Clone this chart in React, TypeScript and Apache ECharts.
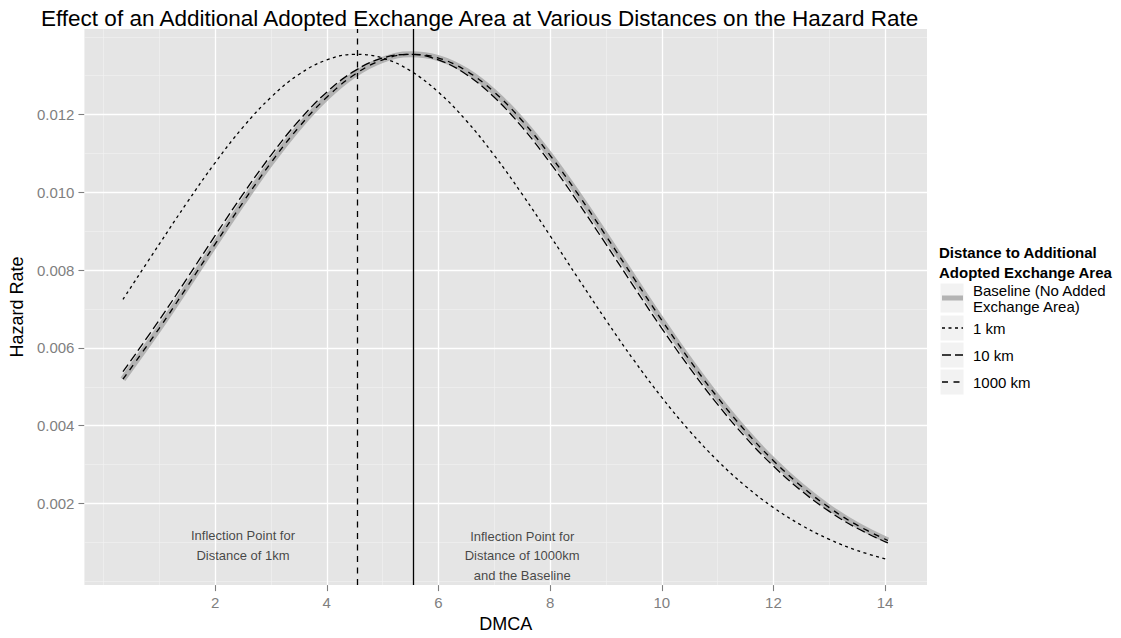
import React, { useEffect, useRef } from "react";
import * as echarts from "echarts";

// ---- data ----
const titleText =
  "Effect of an Additional Adopted Exchange Area at Various Distances on the Hazard Rate";
const xAxisTitle = "DMCA";
const yAxisTitle = "Hazard Rate";
const legendTitle = ["Distance to Additional", "Adopted Exchange Area"];
const seriesNames = ["Baseline (No Added\nExchange Area)", "1 km", "10 km", "1000 km"];

const dmca = [
  0.35, 1.0, 1.5, 2.0, 2.5, 3.0, 3.5, 4.0, 4.5, 5.0, 5.5, 6.0, 6.5, 7.0, 7.5, 8.0,
  8.5, 9.0, 9.5, 10.0, 10.5, 11.0, 11.5, 12.0, 12.5, 13.0, 13.5, 14.05,
];
const baseline = [
  0.005194, 0.006503, 0.007575, 0.008667, 0.009742, 0.01076, 0.011675, 0.012443,
  0.013031, 0.013405, 0.013549, 0.013453, 0.013123, 0.012576, 0.011841, 0.010952,
  0.009952, 0.008885, 0.007792, 0.006714, 0.005683, 0.004726, 0.003861, 0.003099,
  0.002444, 0.001893, 0.001441, 0.001046,
];
const km1 = [
  0.007249, 0.008667, 0.009742, 0.01076, 0.011675, 0.012443, 0.013031, 0.013405,
  0.013549, 0.013453, 0.013123, 0.012576, 0.011841, 0.010952, 0.009952, 0.008885,
  0.007792, 0.006714, 0.005683, 0.004726, 0.003861, 0.003099, 0.002444, 0.001893,
  0.001441, 0.001077, 0.000791, 0.000552,
];
const km10 = [
  0.005388, 0.006714, 0.007792, 0.008885, 0.009952, 0.010952, 0.011841, 0.012576,
  0.013123, 0.013453, 0.013549, 0.013405, 0.013031, 0.012443, 0.011675, 0.01076,
  0.009742, 0.008667, 0.007575, 0.006503, 0.005485, 0.004545, 0.0037, 0.002959,
  0.002325, 0.001795, 0.001361, 0.000984,
];
const km1000 = [
  0.005194, 0.006503, 0.007575, 0.008667, 0.009742, 0.01076, 0.011675, 0.012443,
  0.013031, 0.013405, 0.013549, 0.013453, 0.013123, 0.012576, 0.011841, 0.010952,
  0.009952, 0.008885, 0.007792, 0.006714, 0.005683, 0.004726, 0.003861, 0.003099,
  0.002444, 0.001893, 0.001441, 0.001046,
];

const xMin = -0.34;
const xMax = 14.75;
const yMin = -0.0001;
const yMax = 0.0142;
const xTicks = [2, 4, 6, 8, 10, 12, 14];
const xMinor = [0, 1, 3, 5, 7, 9, 11, 13];
const yTicks = [0.002, 0.004, 0.006, 0.008, 0.01, 0.012];
const yMinor = [0, 0.001, 0.003, 0.005, 0.007, 0.009, 0.011, 0.013, 0.014];
const inflection1km = 4.55;
const inflectionBaseline = 5.55;
const annotations = [
  { x: 2.5, y: 0.00092, text: "Inflection Point for\nDistance of 1km" },
  { x: 7.5, y: 0.00066, text: "Inflection Point for\nDistance of 1000km\nand the Baseline" },
];

const FONT = "'Liberation Sans', Arial, Helvetica, sans-serif";

const zip = (xs: number[], ys: number[]) => xs.map((x, i) => [x, ys[i]]);

const DASH_1KM = [3, 3.5];
const DASH_10KM = [9, 4];
const DASH_1000KM = [6, 5.5];

export default function App() {
  const ref = useRef<HTMLDivElement>(null);

  useEffect(() => {
    if (!ref.current) return;
    const chart = echarts.init(ref.current, undefined, { renderer: "svg" });

    const major = { color: "#ffffff", width: 1.3, type: "solid", opacity: 1 };
    const minor = { color: "#f2f2f2", width: 0.6, type: "solid", opacity: 1 };
    const gridLines = [
      ...xMinor.map((v) => ({ coords: [[v, yMin], [v, yMax]], lineStyle: minor })),
      ...yMinor.map((v) => ({ coords: [[xMin, v], [xMax, v]], lineStyle: minor })),
      ...xTicks.map((v) => ({ coords: [[v, yMin], [v, yMax]], lineStyle: major })),
      ...yTicks.map((v) => ({ coords: [[xMin, v], [xMax, v]], lineStyle: major })),
    ];

    // legend (drawn with graphic to match ggplot key boxes)
    const lx = 939;
    const keyX = 940;
    const keyW = 24;
    const keys = [
      { top: 283, h: 30, name: seriesNames[0] },
      { top: 315, h: 26, name: seriesNames[1] },
      { top: 342, h: 26, name: seriesNames[2] },
      { top: 369, h: 26, name: seriesNames[3] },
    ];
    const keyStyles = [
      { stroke: "#b3b3b3", lineWidth: 5, lineDash: null as any },
      { stroke: "#000", lineWidth: 1.3, lineDash: DASH_1KM },
      { stroke: "#000", lineWidth: 1.3, lineDash: DASH_10KM },
      { stroke: "#000", lineWidth: 1.3, lineDash: DASH_1000KM },
    ];
    const legendGraphics: any[] = [
      {
        type: "text",
        left: lx,
        top: 242,
        style: {
          text: legendTitle.join("\n"),
          font: `bold 15px ${FONT}`,
          fill: "#000",
          lineHeight: 20,
        },
      },
    ];
    keys.forEach((k, i) => {
      const cy = k.top + k.h / 2;
      legendGraphics.push({
        type: "rect",
        shape: { x: keyX, y: k.top, width: keyW, height: k.h },
        style: { fill: "#f2f2f2", stroke: "#ffffff", lineWidth: 1 },
      });
      legendGraphics.push({
        type: "line",
        shape: { x1: keyX + 2, y1: cy, x2: keyX + keyW - 1, y2: cy },
        style: {
          stroke: keyStyles[i].stroke,
          lineWidth: keyStyles[i].lineWidth,
          lineDash: keyStyles[i].lineDash || undefined,
        },
      });
      legendGraphics.push({
        type: "text",
        x: 973,
        y: cy,
        style: {
          text: k.name,
          font: `15px ${FONT}`,
          fill: "#000",
          lineHeight: 16,
          verticalAlign: "middle",
          textAlign: "left",
        },
      });
    });

    const lineSeries = (name: string, data: number[], style: any, z: number) => ({
      type: "line",
      name,
      data: zip(dmca, data),
      smooth: 0.4,
      showSymbol: false,
      symbol: "none",
      lineStyle: style,
      z,
      silent: true,
    });

    chart.setOption({
      animation: false,
      backgroundColor: "#ffffff",
      title: {
        text: titleText,
        left: 36,
        top: 2,
        textStyle: { fontFamily: FONT, fontSize: 22.5, fontWeight: "normal", color: "#000" },
      },
      grid: {
        left: 79,
        right: 194,
        top: 29,
        bottom: 47,
        show: true,
        backgroundColor: "#e5e5e5",
        borderWidth: 0,
      },
      xAxis: {
        type: "value",
        min: xMin,
        max: xMax,
        name: xAxisTitle,
        nameLocation: "middle",
        nameGap: 23,
        nameTextStyle: { fontFamily: FONT, fontSize: 18, color: "#000" },
        axisLine: { show: false, onZero: false },
        splitLine: { show: false },
        axisTick: {
          show: true,
          length: 6,
          customValues: xTicks,
          lineStyle: { color: "#7f7f7f", width: 1.1 },
        },
        axisLabel: {
          customValues: xTicks,
          color: "#7f7f7f",
          fontFamily: FONT,
          fontSize: 15,
          margin: 10,
          formatter: (v: number) => String(v),
        },
      },
      yAxis: {
        type: "value",
        min: yMin,
        max: yMax,
        name: yAxisTitle,
        nameLocation: "middle",
        nameGap: 45,
        nameTextStyle: { fontFamily: FONT, fontSize: 18, color: "#000" },
        axisLine: { show: false, onZero: false },
        splitLine: { show: false },
        axisTick: {
          show: true,
          length: 6,
          customValues: yTicks,
          lineStyle: { color: "#7f7f7f", width: 1.1 },
        },
        axisLabel: {
          customValues: yTicks,
          color: "#7f7f7f",
          fontFamily: FONT,
          fontSize: 15,
          margin: 10,
          formatter: (v: number) => v.toFixed(3),
        },
      },
      series: [
        {
          type: "lines",
          name: "grid",
          coordinateSystem: "cartesian2d",
          polyline: false,
          silent: true,
          z: 1,
          symbol: ["none", "none"],
          effect: { show: false },
          data: gridLines,
        },
        lineSeries(seriesNames[0], baseline, { color: "#b3b3b3", width: 6 }, 2),
        lineSeries(seriesNames[1], km1, { color: "#000", width: 1.3, type: DASH_1KM }, 3),
        lineSeries(seriesNames[2], km10, { color: "#000", width: 1.3, type: DASH_10KM }, 3),
        lineSeries(seriesNames[3], km1000, { color: "#000", width: 1.3, type: DASH_1000KM }, 3),
        {
          type: "line",
          name: "inflection",
          data: [],
          z: 4,
          silent: true,
          markLine: {
            silent: true,
            symbol: ["none", "none"],
            label: { show: false },
            emphasis: { disabled: true },
            data: [
              { xAxis: inflection1km, lineStyle: { color: "#000", width: 1.3, type: DASH_1000KM } },
              { xAxis: inflectionBaseline, lineStyle: { color: "#000", width: 1.3, type: "solid" } },
            ],
          },
        },
        {
          type: "scatter",
          name: "notes",
          symbolSize: 0,
          silent: true,
          z: 5,
          data: annotations.map((a) => ({
            value: [a.x, a.y],
            label: {
              show: true,
              position: "inside",
              formatter: a.text,
              fontFamily: FONT,
              fontSize: 13,
              lineHeight: 19.5,
              color: "#1a1a1a",
              align: "center",
              verticalAlign: "middle",
            },
          })),
        },
      ],
      graphic: legendGraphics,
    });

    return () => chart.dispose();
  }, []);

  return (
    <div
      ref={ref}
      style={{ position: "fixed", left: 0, top: 0, width: 1121, height: 638, background: "#fff" }}
    />
  );
}
